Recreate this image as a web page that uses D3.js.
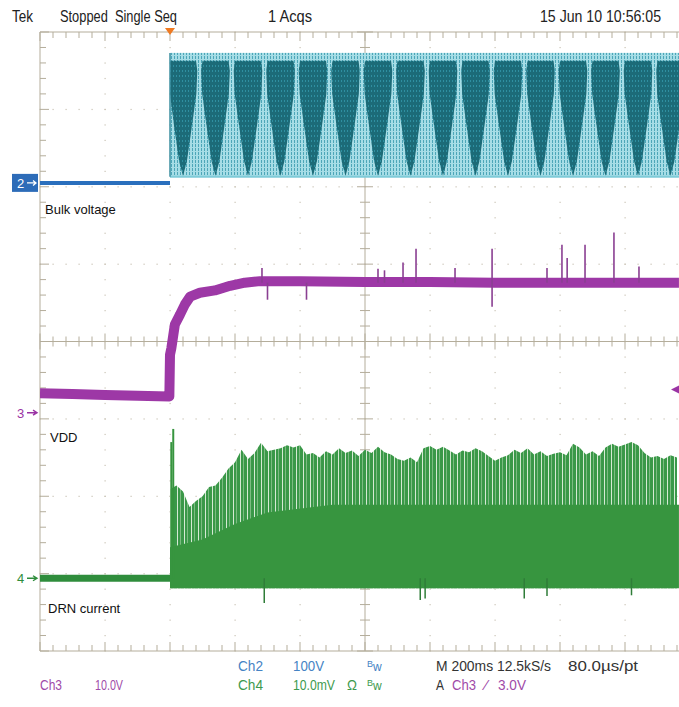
<!DOCTYPE html>
<html><head><meta charset="utf-8">
<script src="https://cdn.jsdelivr.net/npm/d3@7"></script>
<style>body{margin:0;background:#fff}svg{display:block}</style>
</head><body><svg id="c" width="679" height="707"></svg>
<script>
// ---------- data ----------
const timeDomain = [-0.4, 1.6];          // s  (200 ms/div, trigger at 0)
const divDomain = [-4, 4];               // vertical divisions
const ch2Scale = 100, ch2Pos = 2.05;     // V/div, position (div)
const ch3Scale = 10,  ch3Pos = -0.92;    // V/div
const ch4Scale = 10,  ch4Pos = -3.06;    // mV/div
const tEnd = 1.566;

// Ch2 bulk voltage
const bulkPreT = [-0.4, 0];
const bulkPreV = [0, 0];
const bulkMinV = 8, bulkMaxV = 168;
const bulkTroughT = [0.04,0.14,0.24,0.34,0.44,0.54,0.64,0.74,0.84,0.94,1.04,1.14,1.24,1.34,1.44,1.54];
const bulkPeakV = 158, bulkTroughV = 9;

// Ch3 VDD
const vddT = [-0.4,-0.3,-0.2,-0.1,-0.002,0.0,0.004,0.015,0.031,0.046,0.062,0.092,0.138,0.185,0.23,0.277,0.4,0.6,0.8,1.0,1.2,1.4,1.566];
const vddV = [2.5,2.4,2.3,2.2,2.1,7.5,8.3,11.4,12.7,14.0,15.0,15.5,15.8,16.4,16.8,17.0,17.0,16.9,16.9,16.8,16.8,16.8,16.8];
const vddSpikeT = [0.283,0.64,0.66,0.717,0.757,0.877,0.991,1.16,1.206,1.222,1.277,1.366,1.443];
const vddSpikeV = [18.7,18.6,18.4,19.4,21.2,18.7,21.2,18.7,21.7,20.0,21.7,23.3,18.9];
const vddDipT = [0.30,0.42,0.991];
const vddDipV = [14.6,14.6,13.7];
const trigLevelV = 3.0;

// Ch4 DRN current
const drnPreT = [-0.4, 0];
const drnPreMV = [0, 0];
const drnT = d3.range(0, 1.5601, 0.02);
const drnTopMV = [11.5,12.0,11.2,9.2,10.0,10.6,11.8,12.0,13.0,14.2,15.0,16.6,15.4,16.2,17.5,16.4,16.6,16.8,17.2,16.9,
  17.2,16.0,16.2,15.6,16.4,16.0,16.8,16.2,16.5,15.8,16.6,16.2,17.0,16.3,16.0,15.4,15.2,15.6,15.0,16.8,
  17.1,16.6,17.0,16.5,16.0,16.5,16.3,16.8,16.4,15.8,15.2,15.6,15.9,16.6,16.2,16.8,16.0,16.4,15.8,16.1,
  16.3,15.9,17.4,16.9,16.0,16.4,15.8,16.9,17.4,17.0,17.3,17.6,17.2,16.2,15.6,15.8,15.4,15.9,15.6];
const drnBodyT = [0, 0.1, 0.2, 0.3, 0.5, 1.0, 1.566];
const drnBodyMV = [4.0, 5.0, 7.0, 8.5, 9.5, 9.5, 9.5];
const drnSpikeT = [0.004, 0.010];
const drnSpikeMV = [17.6, 19.3];
const drnBottomMV = -1.3;
const drnDipT = [0.29, 0.77, 0.785, 1.09, 1.16, 1.42];
const drnDipMV = [-3.2, -2.8, -2.6, -2.6, -2.3, -2.2];

// ---------- scales ----------
const svg = d3.select('#c');
const x = d3.scaleLinear().domain(timeDomain).range([40, 690]);
const yDiv = d3.scaleLinear().domain(divDomain).range([651, 32]);
const chScale = (s, p) => d3.scaleLinear().domain(divDomain.map(d => (d - p) * s)).range([651, 32]);
const y2 = chScale(ch2Scale, ch2Pos);
const y3 = chScale(ch3Scale, ch3Pos);
const y4 = chScale(ch4Scale, ch4Pos);

const defs = svg.append('defs');
defs.append('clipPath').attr('id','plot').append('rect').attr('x',40).attr('y',32).attr('width',640).attr('height',620);
const p1 = defs.append('pattern').attr('id','cyanP').attr('patternUnits','userSpaceOnUse').attr('width',3).attr('height',4);
p1.append('rect').attr('width',3).attr('height',4).attr('fill','#a6dde6');
p1.append('rect').attr('width',1).attr('height',3).attr('fill','#4da6b8');
const p2 = defs.append('pattern').attr('id','tealP').attr('patternUnits','userSpaceOnUse').attr('width',3).attr('height',5);
p2.append('rect').attr('width',3).attr('height',5).attr('fill','#1c6b78');
p2.append('rect').attr('x',2).attr('width',1).attr('height',2).attr('fill','#2f8fa0');
const p3 = defs.append('pattern').attr('id','greenP').attr('patternUnits','userSpaceOnUse').attr('width',7).attr('height',4);
p3.append('rect').attr('width',7).attr('height',4).attr('fill','#3a9848');
p3.append('rect').attr('x',2).attr('width',1).attr('height',4).attr('fill','#d6ead4');
p3.append('rect').attr('x',5).attr('width',0.8).attr('height',4).attr('fill','#8cc48f');

// ---------- graticule ----------
const gc = '#b4ad9b';
const g = svg.append('g');
const majX = d3.range(0, 11).map(i => timeDomain[0] + i * 0.2);
const majY = d3.range(-4, 5);
const minX = d3.range(0, 51).map(i => timeDomain[0] + i * 0.04);
const minY = d3.range(0, 41).map(i => -4 + i * 0.2);
majX.forEach(t => { if (Math.abs(t - 0.6) > 1e-6 && t > -0.39)
  minY.forEach(d => g.append('rect').attr('x', x(t) - 0.5).attr('y', yDiv(d) - 0.5).attr('width',1.2).attr('height',1.2).attr('fill','#c9c3b5')); });
majY.forEach(d => { if (d !== 0 && Math.abs(d) !== 4)
  minX.forEach(t => g.append('rect').attr('x', x(t) - 0.5).attr('y', yDiv(d) - 0.5).attr('width',1.2).attr('height',1.2).attr('fill','#c9c3b5')); });
g.append('line').attr('x1',x(-0.4)).attr('x2',690).attr('y1',yDiv(4)).attr('y2',yDiv(4)).attr('stroke',gc);
g.append('line').attr('x1',x(-0.4)).attr('x2',690).attr('y1',yDiv(-4)).attr('y2',yDiv(-4)).attr('stroke',gc);
g.append('line').attr('x1',x(-0.4)).attr('x2',x(-0.4)).attr('y1',yDiv(4)).attr('y2',yDiv(-4)).attr('stroke',gc);
g.append('line').attr('x1',x(-0.4)).attr('x2',690).attr('y1',yDiv(0)).attr('y2',yDiv(0)).attr('stroke',gc);
g.append('line').attr('x1',x(0.6)).attr('x2',x(0.6)).attr('y1',yDiv(4)).attr('y2',yDiv(-4)).attr('stroke',gc);
minX.forEach((t,i) => {
  const big = i % 5 === 0, L = big ? 8 : 5;
  g.append('line').attr('x1',x(t)).attr('x2',x(t)).attr('y1',yDiv(0)-L).attr('y2',yDiv(0)+L).attr('stroke',gc);
  g.append('line').attr('x1',x(t)).attr('x2',x(t)).attr('y1',yDiv(4)).attr('y2',yDiv(4)+(big?9:6)).attr('stroke',gc);
  g.append('line').attr('x1',x(t)).attr('x2',x(t)).attr('y1',yDiv(-4)).attr('y2',yDiv(-4)-(big?9:6)).attr('stroke',gc);
});
minY.forEach((d,i) => {
  const big = i % 5 === 0, L = big ? 8 : 5;
  g.append('line').attr('y1',yDiv(d)).attr('y2',yDiv(d)).attr('x1',x(0.6)-L).attr('x2',x(0.6)+L).attr('stroke',gc);
  g.append('line').attr('y1',yDiv(d)).attr('y2',yDiv(d)).attr('x1',x(-0.4)).attr('x2',x(-0.4)+(big?9:6)).attr('stroke',gc);
});

// ---------- traces ----------
const plot = svg.append('g').attr('clip-path','url(#plot)');

// Ch2 bulk voltage
plot.append('rect').attr('x', x(0)).attr('y', y2(bulkMaxV)).attr('width', x(tEnd) - x(0))
  .attr('height', y2(bulkMinV) - y2(bulkMaxV)).attr('fill','url(#cyanP)');
const hw = 0.044;
bulkTroughT.forEach(tt => {
  const pts = [[tt-hw+0.004, bulkPeakV],[tt-hw, 145],[tt-hw+0.003, 115],[tt-0.028, 75],[tt-0.012, 28],[tt, bulkTroughV],
               [tt+0.012, 28],[tt+0.028, 75],[tt+hw-0.003, 115],[tt+hw, 145],[tt+hw-0.004, bulkPeakV]]
    .map(p => [Math.max(p[0], 0), p[1]]);
  plot.append('path').attr('d', d3.line().x(p => x(p[0])).y(p => y2(p[1])).curve(d3.curveLinearClosed)(pts))
    .attr('fill','url(#tealP)');
});
plot.append('line').attr('x1',x(0)).attr('x2',x(tEnd)).attr('y1',y2(bulkMinV)).attr('y2',y2(bulkMinV)).attr('stroke','#7fcbd8').attr('stroke-width',2);
plot.append('line').attr('x1',x(0)).attr('x2',x(0)).attr('y1',y2(bulkMinV)).attr('y2',y2(bulkMaxV)).attr('stroke','#3d8fa0').attr('stroke-width',1.5);
plot.append('path').attr('d', d3.line().x((d,i)=>x(bulkPreT[i])).y(d=>y2(d))(bulkPreV))
  .attr('stroke','#2a6fbd').attr('stroke-width',4).attr('fill','none');

// Ch3 VDD
plot.append('path').attr('d', d3.line().x((d,i)=>x(vddT[i])).y(d=>y3(d))(vddV))
  .attr('stroke','#9d38a6').attr('stroke-width',10).attr('fill','none').attr('stroke-linejoin','round');
vddSpikeT.forEach((t,i) => plot.append('line').attr('x1',x(t)).attr('x2',x(t)).attr('y1',y3(16.8)).attr('y2',y3(vddSpikeV[i]))
  .attr('stroke','#8a3f92').attr('stroke-width',1.6));
vddDipT.forEach((t,i) => plot.append('line').attr('x1',x(t)).attr('x2',x(t)).attr('y1',y3(16.8)).attr('y2',y3(vddDipV[i]))
  .attr('stroke','#8a3f92').attr('stroke-width',1.6));

// Ch4 DRN current
plot.append('path').attr('d', d3.line().x((d,i)=>x(drnPreT[i])).y(d=>y4(d))(drnPreMV))
  .attr('stroke','#2f8d3c').attr('stroke-width',7).attr('fill','none');
const topArea = d3.area().x((d,i)=>x(drnT[i])).y0(y4(drnBottomMV)).y1(d=>y4(d));
plot.append('path').attr('d', topArea(drnTopMV)).attr('fill','url(#greenP)');
const bodyArea = d3.area().x((d,i)=>x(drnBodyT[i])).y0(y4(drnBottomMV)).y1(d=>y4(d));
plot.append('path').attr('d', bodyArea(drnBodyMV)).attr('fill','#37953f');
drnSpikeT.forEach((t,i) => plot.append('line').attr('x1',x(t)).attr('x2',x(t)).attr('y1',y4(0)).attr('y2',y4(drnSpikeMV[i]))
  .attr('stroke','#37953f').attr('stroke-width',2));
drnDipT.forEach((t,i) => plot.append('line').attr('x1',x(t)).attr('x2',x(t)).attr('y1',y4(0)).attr('y2',y4(drnDipMV[i]))
  .attr('stroke','#2f7d38').attr('stroke-width',1.5));

// ---------- markers ----------
svg.append('path').attr('d', `M${x(0)-5},${yDiv(4)-4}L${x(0)+5},${yDiv(4)-4}L${x(0)},${yDiv(4)+3}Z`).attr('fill','#ef7a22');
svg.append('rect').attr('x',12).attr('y',y2(0)-9).attr('width',26).attr('height',18).attr('fill','#2d6cb8');
svg.append('text').attr('x',17).attr('y',y2(0)+5).text('2').attr('fill','#fff').attr('font-size',13).attr('font-family','Liberation Sans, sans-serif');
svg.append('path').attr('d',`M27,${y2(0)}L36,${y2(0)}M33,${y2(0)-2.5}L36,${y2(0)}L33,${y2(0)+2.5}`).attr('stroke','#fff').attr('stroke-width',1.3).attr('fill','none');
[[y3(0),'3','#9a33a4'],[y4(0),'4','#2f8d3c']].forEach(([yy,l,c]) => {
  svg.append('text').attr('x',17).attr('y',yy+5).text(l).attr('fill',c).attr('font-size',13).attr('font-family','Liberation Sans, sans-serif');
  svg.append('path').attr('d',`M27,${yy}L37,${yy}M33,${yy-2.5}L37,${yy}L33,${yy+2.5}`).attr('stroke',c).attr('stroke-width',1.4).attr('fill','none');
});
svg.append('path').attr('d',`M671,${y3(trigLevelV)}L679,${y3(trigLevelV)-4}L679,${y3(trigLevelV)+4}Z`).attr('fill','#9a33a4');

// ---------- texts ----------
const F = 'Liberation Sans, Arial, sans-serif';
const T = (tx, xx, yy, col, size, len) => {
  const t = svg.append('text').attr('x',xx).attr('y',yy).text(tx).attr('fill',col).attr('font-size',size).attr('font-family',F);
  if (len) t.attr('textLength', len).attr('lengthAdjust','spacingAndGlyphs');
  return t;
};
T('Tek', 12, 22, '#222', 16, 21);
T('Stopped\u00A0\u00A0Single Seq', 60, 22, '#222', 16, 117);
T('1 Acqs', 268, 22, '#222', 16, 44);
T('15 Jun 10 10:56:05', 540, 22, '#222', 16, 121);
T('Bulk voltage', 45, 214, '#111', 13);
T('VDD', 50, 442, '#111', 13);
T('DRN current', 48, 613, '#111', 13);
const blue = '#4583c4', green = '#3d9a4d', purple = '#a04aa8', dark = '#333';
T('Ch2', 238, 671, blue, 15, 25); T('100V', 293, 671, blue, 15, 31);
T('Ch3', 40, 690, purple, 15, 22); T('10.0V', 95, 690, purple, 15, 28);
T('Ch4', 238, 690, green, 15, 25); T('10.0mV', 293, 690, green, 15, 42); T('\u03A9', 347, 690, green, 14, 10);
const bw = (xx, yy, c) => { const t = svg.append('text').attr('x',xx).attr('y',yy).attr('fill',c).attr('font-family',F);
  t.append('tspan').text('B').attr('font-size',9).attr('dy',-4); t.append('tspan').text('w').attr('font-size',12).attr('dy',4); };
bw(367, 671, blue); bw(367, 690, green);
T('M 200ms 12.5kS/s', 436, 671, dark, 15, 115);
T('80.0\u00B5s/pt', 568, 671, dark, 15, 70);
T('A', 436, 690, dark, 15, 8); T('Ch3', 452, 690, purple, 15, 24); T('\u2044', 485, 690, purple, 15); T('3.0V', 498, 690, purple, 15, 28);
</script></body></html>
